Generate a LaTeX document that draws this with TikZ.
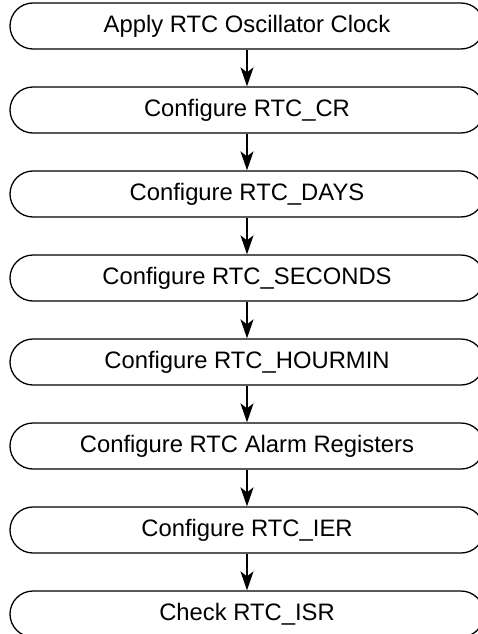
\documentclass[tikz,border=0pt]{standalone}
\usepackage{fontspec}
\setmainfont{Liberation Sans}
\usepackage{tikz}
\usetikzlibrary{arrows.meta}

\tikzset{
  stepbox/.style={draw,line width=1.3pt,rounded corners=23pt,
    minimum width=474pt,minimum height=46pt,inner sep=0pt,
    font=\fontsize{23.8}{28}\selectfont},
  flow/.style={-{Stealth[length=19pt,width=13pt,inset=5pt]},line width=1.5pt}
}

\begin{document}
\begin{tikzpicture}[x=1pt,y=1pt]
\useasboundingbox (0,0) rectangle (478,-634);
\foreach \i/\txt in {1/Apply RTC Oscillator Clock,2/Configure RTC\_CR,3/Configure RTC\_DAYS,
  4/Configure RTC\_SECONDS,5/Configure RTC\_HOURMIN,6/Configure RTC Alarm Registers,
  7/Configure RTC\_IER,8/Check RTC\_ISR}{
  \node[stepbox] (s\i) at (247,{-26-84*(\i-1)}) {\txt};}
\foreach \i [count=\j from 2] in {1,...,7}
  \draw[flow] (s\i) -- (s\j);
\end{tikzpicture}
\end{document}
